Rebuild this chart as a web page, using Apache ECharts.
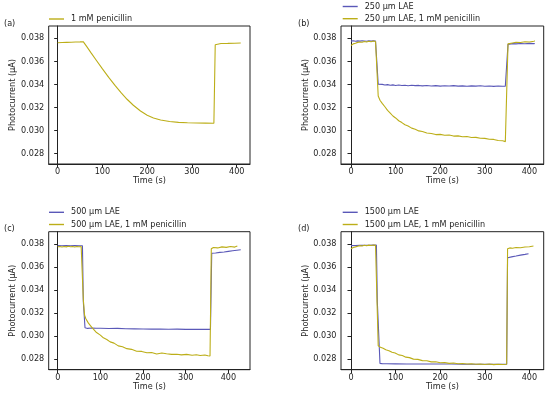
<!DOCTYPE html>
<html>
<head>
<meta charset="utf-8">
<script src="https://cdn.jsdelivr.net/npm/echarts@6/dist/echarts.min.js"></script>
<style>html,body{margin:0;padding:0;background:#fff}#c{width:550px;height:397px}</style>
</head>
<body>
<div id="c"></div>
<script>
// ---- data ----
const xTicks = [0, 100, 200, 300, 400];
const yTicks = [0.028, 0.030, 0.032, 0.034, 0.036, 0.038];

// (a)
const tA = [0,10,20,30,40,50,57,65,75,87,100,114,128,142,155,169,185,200,214,230,250,270,290,310,330,349,352,356,365,380,395,409];
const penA = [0.03762,0.03764,0.03765,0.03766,0.03768,0.03769,0.03771,0.03728,0.03672,0.03606,0.03535,0.03462,0.03392,0.03327,0.03272,0.03220,0.03170,0.03134,0.03110,0.03092,0.03079,0.03072,0.03068,0.03066,0.03065,0.03064,0.03745,0.03752,0.03755,0.03756,0.03758,0.03760];

// (b)
const tB = [0,5,10,15,20,25,30,35,40,45,50,55,58,61,65,70,76,82,88,94,100,107,114,121,128,136,144,152,160,170,180,190,200,210,220,230,240,250,260,270,280,290,300,310,320,330,340,346,350,352,356,362,370,380,390,400,410,412];
const laeB = [0.03776,0.03779,0.03775,0.03778,0.03776,0.03779,0.03777,0.03775,0.03779,0.03776,0.03778,0.03777,
  0.03778,0.03402,0.03398,0.03401,0.03396,0.03399,0.03394,0.03397,0.03392,
  0.03395,0.03391,0.03394,0.03389,0.03393,0.03390,0.03392,0.03388,
  0.03391,0.03387,0.03390,0.03386,0.03389,0.03387,0.03390,0.03386,0.03388,0.03385,0.03388,0.03386,0.03389,0.03385,0.03387,0.03384,0.03387,0.03385,
  0.03386,0.03380,
  0.03748,0.03752,0.03754,0.03752,0.03755,0.03753,0.03756,0.03754,0.03756];
const penB = [0.03738,0.03752,0.03758,0.03765,0.03768,0.03766,0.03772,0.03769,0.03775,0.03771,0.03777,0.03773,
  0.03776,0.03300,0.03264,0.03236,0.03207,0.03176,0.03152,0.03127,0.03110,
  0.03086,0.03070,0.03051,0.03040,0.03022,0.03012,0.02998,0.02993,
  0.02980,0.02976,0.02966,0.02968,0.02960,0.02962,0.02953,0.02955,0.02947,0.02949,0.02941,0.02942,0.02934,0.02933,0.02925,0.02924,0.02915,0.02912,
  0.02905,0.02898,
  0.03752,0.03762,0.03760,0.03766,0.03764,0.03770,0.03768,0.03775,0.03778];

// (c)
const tCb = [0,10,20,30,40,50,58,60,64,70,80,90,100,120,140,160,180,200,220,240,260,280,300,320,340,358,361,370,380,390,400,410,420,429];
const laeC = [0.03786,0.03785,0.03786,0.03785,0.03786,0.03785,
  0.03785,0.03300,0.03072,0.03066,0.03069,0.03067,0.03068,
  0.03065,0.03066,0.03063,0.03062,0.03061,0.03060,0.03061,0.03059,0.03060,0.03058,0.03059,0.03058,
  0.03058,0.03719,
  0.03722,0.03727,0.03731,0.03736,0.03741,0.03746,0.03750];
const tC = [0,5,10,15,20,25,30,35,40,45,50,55,58,60,63,66,72,80,91,100,107,115,123,132,142,152,162,173,185,197,209,220,232,244,255,267,279,290,302,315,325,334,345,352,357,360,365,375,385,395,405,415,421];
const penC = [0.03776,0.03779,0.03774,0.03778,0.03775,0.03780,0.03776,0.03779,0.03774,0.03778,0.03776,0.03779,
  0.03776,0.03320,0.03180,0.03150,0.03112,0.03075,0.03030,0.03008,
  0.02984,0.02970,0.02949,0.02938,0.02914,0.02906,0.02890,0.02884,0.02868,0.02866,0.02854,0.02856,0.02843,0.02852,0.02846,0.02840,0.02842,0.02836,0.02840,0.02833,0.02837,0.02831,0.02835,0.02828,0.02826,
  0.03758,0.03770,0.03766,0.03775,0.03771,0.03778,0.03773,0.03782];

// (d)
const tDb = [0,10,20,30,40,50,57,59,65,70,80,100,125,150,175,200,225,250,275,300,325,349,351,360,370,380,390,398];
const laeD = [0.03786,0.03787,0.03788,0.03788,0.03789,0.03790,
  0.03790,0.03300,0.02762,0.02760,0.02759,
  0.02758,0.02757,0.02757,0.02756,0.02756,0.02756,0.02755,0.02755,0.02755,0.02755,
  0.02755,0.03681,
  0.03688,0.03695,0.03703,0.03710,0.03716];
const tD = [0,5,10,15,20,25,30,35,40,45,50,55,58,61,66,72,78,85,92,99,107,115,123,131,140,150,160,170,180,190,200,210,220,230,240,250,260,270,280,290,300,310,320,330,340,349,351,356,362,370,380,390,400,409];
const penD = [0.03758,0.03770,0.03775,0.03781,0.03786,0.03783,0.03789,0.03785,0.03790,0.03787,0.03792,0.03788,
  0.03790,0.02915,0.02902,0.02893,0.02880,0.02872,0.02858,0.02852,
  0.02836,0.02831,0.02816,0.02812,0.02799,
  0.02797,0.02786,0.02785,0.02775,0.02776,0.02767,0.02769,0.02762,0.02765,0.02759,0.02761,0.02756,0.02759,0.02754,0.02757,0.02752,0.02756,0.02751,0.02755,0.02752,
  0.02754,
  0.03758,0.03766,0.03763,0.03769,0.03767,0.03774,0.03776,0.03782];

const names = {
  a: ['1 mM penicillin'],
  b: ['250 µm LAE', '250 µm LAE, 1 mM penicillin'],
  c: ['500 µm LAE', '500 µm LAE, 1 mM penicillin'],
  d: ['1500 µm LAE', '1500 µm LAE, 1 mM penicillin']
};
const panelLabels = ['(a)', '(b)', '(c)', '(d)'];

// ---- styling / layout ----
const FONT = 'DejaVu Sans';
const TXT = '#1e1e1e';
const BLUE = '#5a58b8';
const YEL = '#bcae18';
const FS = 8.1;

const grids = [
  {left: 48.7, top: 26, width: 201.3, height: 138},
  {left: 341, top: 26, width: 202.7, height: 138},
  {left: 48.7, top: 231.7, width: 201.3, height: 138},
  {left: 341, top: 231.7, width: 202.7, height: 138}
];
const xRanges = [[-20.1, 429.7], [-22.4, 432], [-21.1, 450.7], [-22.4, 432]];
const yRanges = [[0.02711, 0.03907], [0.02711, 0.03907], [0.02707, 0.03907], [0.02707, 0.03907]];

const pairs = (t, v) => t.map((x, i) => [x, v[i]]);

const panelSeries = [
  [{name: names.a[0], color: YEL, data: pairs(tA, penA)}],
  [{name: names.b[0], color: BLUE, data: pairs(tB, laeB)}, {name: names.b[1], color: YEL, data: pairs(tB, penB)}],
  [{name: names.c[0], color: BLUE, data: pairs(tCb, laeC)}, {name: names.c[1], color: YEL, data: pairs(tC, penC)}],
  [{name: names.d[0], color: BLUE, data: pairs(tDb, laeD)}, {name: names.d[1], color: YEL, data: pairs(tD, penD)}]
];

const legendPos = [
  {left: 49, top: 15},
  {left: 342.7, top: 2.5},
  {left: 49, top: 208.3},
  {left: 342.7, top: 208.3}
];
const labelPos = [[4, 19.5], [298, 19.5], [4, 224.5], [298, 224.5]];

const option = {
  animation: false,
  backgroundColor: '#fff',
  grid: grids.map(g => Object.assign({show: true, borderColor: '#222', borderWidth: 1, backgroundColor: 'transparent', containLabel: false}, g)),
  xAxis: grids.map((g, i) => ({
    type: 'value', gridIndex: i, min: xRanges[i][0], max: xRanges[i][1],
    axisLine: {show: true, lineStyle: {color: '#222', width: 1}},
    splitLine: {show: false},
    axisTick: {show: true, length: 3.5, lineStyle: {color: '#222'}, customValues: xTicks},
    axisLabel: {customValues: xTicks, fontSize: FS, color: TXT, fontFamily: FONT, margin: 4},
    name: 'Time (s)', nameLocation: 'middle', nameGap: 12.5,
    nameTextStyle: {fontSize: FS, color: TXT, fontFamily: FONT}
  })),
  yAxis: grids.map((g, i) => ({
    type: 'value', gridIndex: i, min: yRanges[i][0], max: yRanges[i][1],
    axisLine: {show: true, lineStyle: {color: '#222', width: 1}},
    splitLine: {show: false},
    axisTick: {show: true, length: 3.5, lineStyle: {color: '#222'}, customValues: yTicks},
    axisLabel: {customValues: yTicks, fontSize: FS, color: TXT, fontFamily: FONT, margin: 4.5,
      formatter: v => v.toFixed(3)},
    name: 'Photocurrent (µA)', nameLocation: 'middle', nameGap: 25.5,
    nameTextStyle: {fontSize: FS, color: TXT, fontFamily: FONT}
  })),
  legend: panelSeries.map((ps, i) => ({
    data: ps.map(s => s.name),
    left: legendPos[i].left, top: legendPos[i].top,
    orient: 'vertical', padding: 0, itemGap: 4.2,
    itemWidth: 15, itemHeight: 1.4, icon: 'rect',
    selectedMode: false,
    textStyle: {fontSize: FS, color: TXT, fontFamily: FONT, padding: [0, 0, 0, 2]}
  })),
  series: [].concat(...panelSeries.map((ps, i) => ps.map(s => ({
    type: 'line', name: s.name, xAxisIndex: i, yAxisIndex: i,
    data: s.data, showSymbol: false, symbol: 'none',
    lineStyle: {color: s.color, width: 1.1}, itemStyle: {color: s.color},
    clip: true
  })))),
  graphic: panelLabels.map((t, i) => ({
    type: 'text', left: labelPos[i][0], top: labelPos[i][1],
    style: {text: t, fontSize: FS, fill: TXT, fontFamily: FONT}
  }))
};

const chart = echarts.init(document.getElementById('c'), null, {renderer: 'canvas'});
chart.setOption(option);
</script>
</body>
</html>
